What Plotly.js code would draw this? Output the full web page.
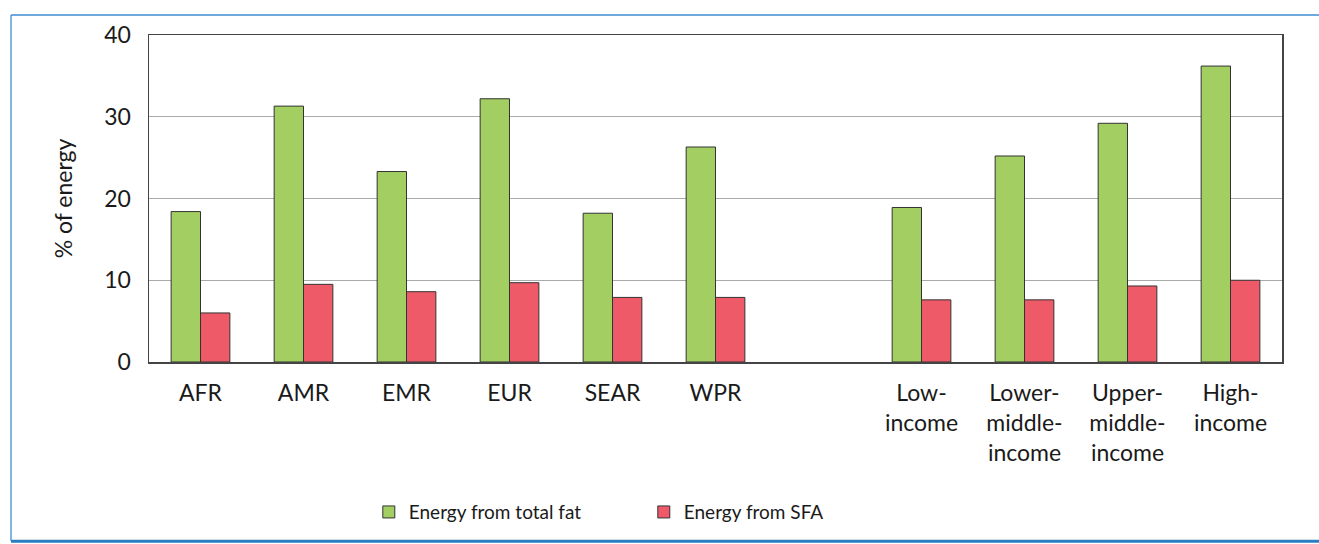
<!DOCTYPE html>
<html>
<head>
<meta charset="utf-8">
<script src="https://cdn.plot.ly/plotly-3.0.1.min.js"></script>
<style>html,body{margin:0;padding:0;background:#fff;}#chart{width:1319px;height:544px;}</style>
</head>
<body>
<div id="chart"></div>
<script>
const regions = ["AFR", "AMR", "EMR", "EUR", "SEAR", "WPR"];
const incomeGroups = ["Low-<br>income", "Lower-<br>middle-<br>income", "Upper-<br>middle-<br>income", "High-<br>income"];
const spacer = " ";
const regionTotalFat = [18.4, 31.3, 23.3, 32.2, 18.2, 26.3];
const regionSFA = [6.0, 9.5, 8.6, 9.7, 7.9, 7.9];
const incomeTotalFat = [18.9, 25.2, 29.2, 36.2];
const incomeSFA = [7.6, 7.6, 9.3, 10.0];
const seriesNames = ["Energy from total fat", "Energy from SFA"];
const yTicks = [0, 10, 20, 30, 40];

const categories = regions.concat([spacer], incomeGroups);
const totalFat = regionTotalFat.concat([null], incomeTotalFat);
const sfa = regionSFA.concat([null], incomeSFA);

const FONT = "Lato, 'Open Sans', sans-serif";

const traces = [
  {type: "bar", name: seriesNames[0], x: categories, y: totalFat,
   marker: {color: "#a3cf62", line: {color: "#333333", width: 1}}},
  {type: "bar", name: seriesNames[1], x: categories, y: sfa,
   marker: {color: "#ef5a68", line: {color: "#333333", width: 1}}}
];

const layout = {
  width: 1319, height: 544,
  margin: {l: 149, r: 37, t: 35, b: 182},
  paper_bgcolor: "#ffffff", plot_bgcolor: "#ffffff",
  barmode: "group", bargap: 0.43, bargroupgap: 0,
  font: {family: FONT, color: "#1a1a1a"},
  xaxis: {
    type: "category", categoryorder: "array", categoryarray: categories,
    showline: true, mirror: true, linecolor: "#444444", linewidth: 1.5,
    ticks: "outside", ticklen: 10, tickcolor: "rgba(0,0,0,0)",
    tickfont: {family: FONT, size: 23, color: "#1a1a1a"},
    showgrid: false, fixedrange: true
  },
  yaxis: {
    range: [0, 40], tickvals: yTicks, ticktext: yTicks.map(String),
    showline: true, mirror: true, linecolor: "#444444", linewidth: 1.5,
    showgrid: true, gridcolor: "#aaaaaa", gridwidth: 1, zeroline: false,
    ticks: "outside", ticklen: 12, tickcolor: "rgba(0,0,0,0)",
    tickfont: {family: FONT, size: 23, color: "#1a1a1a"},
    title: {text: "% of energy", font: {family: FONT, size: 23, color: "#1a1a1a"}, standoff: 25},
    fixedrange: true
  },
  legend: {
    orientation: "h", x: 0.194, xanchor: "left", y: -0.459, yanchor: "middle",
    font: {family: FONT, size: 19, color: "#1a1a1a"},
    entrywidth: 230, entrywidthmode: "pixels", traceorder: "normal"
  },
  shapes: [
    {type: "line", xref: "paper", yref: "paper", x0: -0.1218, x1: 1.04, y0: 1.0612, y1: 1.0612,
     line: {color: "#6fa8dc", width: 2}},
    {type: "line", xref: "paper", yref: "paper", x0: -0.1218, x1: -0.1218, y0: 1.0612, y1: -0.547,
     line: {color: "#5b9bd5", width: 1.5}},
    {type: "line", xref: "paper", yref: "paper", x0: -0.1218, x1: 1.04, y0: -0.5485, y1: -0.5485,
     line: {color: "#2a7dc0", width: 3}}
  ],
  showlegend: true
};

Plotly.newPlot("chart", traces, layout, {displayModeBar: false, staticPlot: true});
</script>
</body>
</html>
